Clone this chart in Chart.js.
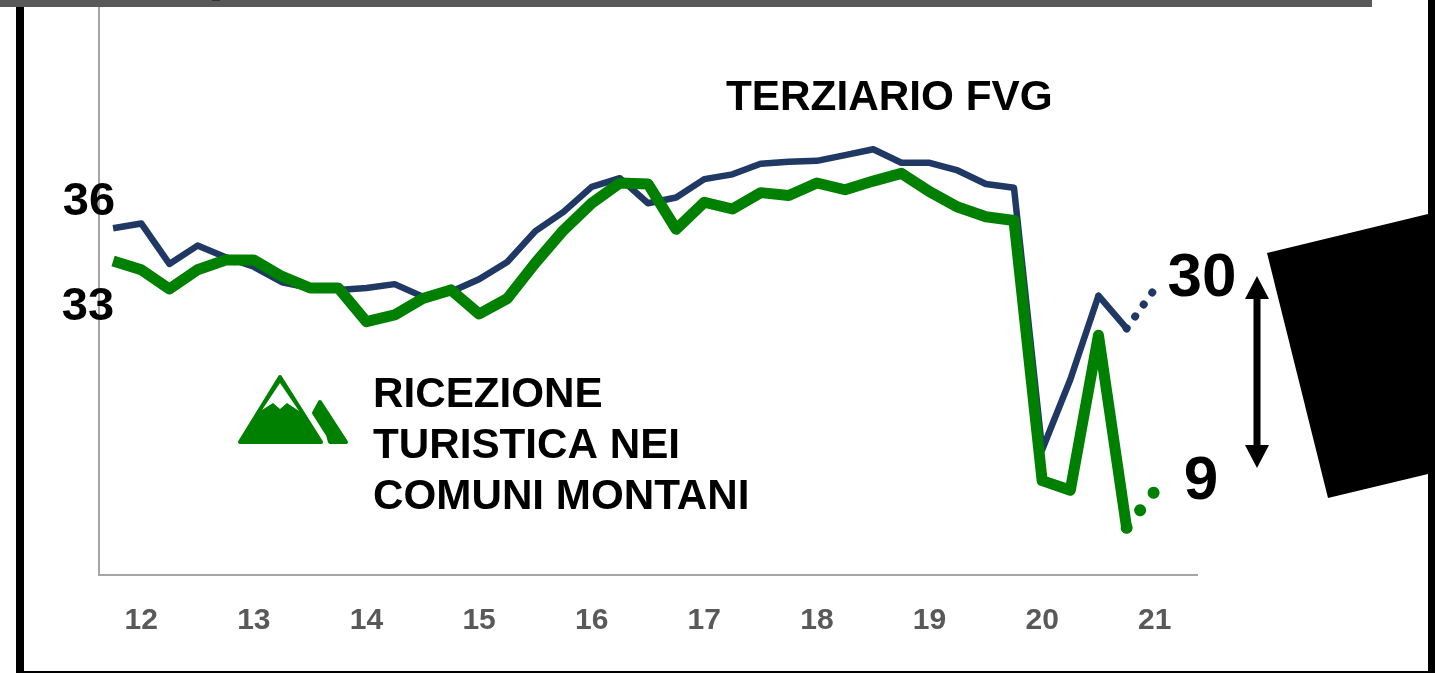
<!DOCTYPE html>
<html>
<head>
<meta charset="utf-8">
<title>Terziario FVG</title>
<script src="https://cdn.jsdelivr.net/npm/chart.js@4"></script>
<style>
html, body { margin: 0; padding: 0; background: #fff; overflow: hidden; }
canvas { display: block; }
</style>
</head>
<body>
<canvas id="graf" width="1435" height="673"></canvas>
<script>
const graf = document.getElementById("graf")

// trimestri: l'etichetta compare solo sul primo punto dell'anno, l'ultima categoria resta vuota
const categorie = ["", "12", "", "", "", "13", "", "", "", "14", "", "", "", "15", "", "", "", "16", "", "", "", "17", "", "", "", "18", "", "", "", "19", "", "", "", "20", "", "", "", "21", ""]

const terziario = [36.0, 36.5, 32.3, 34.2, 33.0, 32.0, 30.4, 29.8, 29.6, 29.8, 30.2, 28.9, 29.4, 30.7, 32.5, 35.7, 37.7, 40.3, 41.2, 38.6, 39.2, 41.1, 41.6, 42.7, 42.9, 43.0, 43.6, 44.2, 42.8, 42.8, 42.0, 40.6, 40.2, 13.0, 20.3, 29.0, 25.6, 29.7]
const ricezione = [32.6, 31.7, 29.7, 31.7, 32.7, 32.7, 31.0, 29.8, 29.8, 26.3, 27.0, 28.7, 29.6, 27.1, 28.7, 32.4, 35.8, 38.6, 40.7, 40.6, 35.9, 38.7, 38.0, 39.7, 39.4, 40.7, 40.0, 40.9, 41.7, 39.8, 38.2, 37.2, 36.8, 9.8, 8.8, 24.9, 4.9, 8.7]

const etichette = [
    { testo: "TERZIARIO FVG", x: 726, y: 98, size: 42.3, align: "left" },
    { testo: "36", x: 89, y: 202, size: 47, align: "center" },
    { testo: "33", x: 88, y: 307, size: 47, align: "center" },
    { testo: "30", x: 1202, y: 279, size: 62, align: "center" },
    { testo: "9", x: 1201, y: 482, size: 62, align: "center" },
    { testo: "RICEZIONE", x: 373, y: 395, size: 42.2, align: "left" },
    { testo: "TURISTICA NEI", x: 373, y: 446, size: 42.2, align: "left" },
    { testo: "COMUNI MONTANI", x: 373, y: 497, size: 42.2, align: "left" }
]

function poligono(ctx, punti, colore) {
    ctx.fillStyle = colore
    ctx.beginPath()
    punti.forEach((p, i) => i ? ctx.lineTo(p[0], p[1]) : ctx.moveTo(p[0], p[1]))
    ctx.closePath()
    ctx.fill()
}

const decorazioni = {
    id: "decorazioni",
    afterDraw(chart) {
        const ctx = chart.ctx
        ctx.save()
        // cornice e barra in alto
        ctx.fillStyle = "#000"
        ctx.fillRect(16, 0, 8, 673)
        ctx.fillRect(1428, 0, 7, 673)
        ctx.fillRect(16, 671, 1419, 2)
        ctx.fillStyle = "#595959"
        ctx.fillRect(0, 0, 1372, 7)
        ctx.fillStyle = "#333"
        ctx.fillRect(212, 0, 8, 1)

        // forma nera a destra
        poligono(ctx, [[1267, 253], [1428, 214], [1428, 474], [1328, 498]], "#000")

        // freccia doppia
        ctx.fillStyle = "#000"
        ctx.fillRect(1253.5, 295, 7, 154)
        poligono(ctx, [[1257, 276], [1269, 299], [1245, 299]], "#000")
        poligono(ctx, [[1257, 468], [1269, 445], [1245, 445]], "#000")

        // icona montagne
        ctx.lineJoin = "round"
        ctx.lineWidth = 4
        ctx.strokeStyle = "#008000"
        ctx.fillStyle = "#008000"
        ctx.beginPath()
        ctx.moveTo(280, 377)
        ctx.lineTo(321, 442)
        ctx.lineTo(240, 442)
        ctx.closePath()
        ctx.fill()
        ctx.stroke()
        poligono(ctx, [[280, 383], [299, 411], [287, 403], [280, 409], [273, 403], [262, 410]], "#fff")
        ctx.fillStyle = "#008000"
        ctx.beginPath()
        ctx.moveTo(314, 413)
        ctx.lineTo(320, 402)
        ctx.lineTo(346, 442)
        ctx.lineTo(330, 442)
        ctx.lineTo(328, 435)
        ctx.closePath()
        ctx.fill()
        ctx.stroke()

        // testi
        ctx.fillStyle = "#000"
        ctx.textBaseline = "middle"
        etichette.forEach(e => {
            ctx.font = "bold " + e.size + "px 'Liberation Sans'"
            ctx.textAlign = e.align
            ctx.fillText(e.testo, e.x, e.y)
        })
        ctx.restore()
    }
}

// ultimo tratto punteggiato, quello prima con la fine arrotondata
function trattoFinale(passo, spessore) {
    return {
        borderDash: c => c.p0DataIndex === 36 ? [0.1, passo] : undefined,
        borderCapStyle: c => c.p0DataIndex >= 35 ? "round" : "butt",
        borderWidth: c => c.p0DataIndex === 36 ? spessore : undefined
    }
}

const myChart = new Chart(graf, {
    type: "line",
    data: {
        labels: categorie,
        datasets: [
            {
                label: "Ricezione turistica nei comuni montani",
                data: ricezione,
                borderColor: "#008000",
                borderWidth: 11,
                borderJoinStyle: "round",
                pointRadius: 0,
                tension: 0,
                segment: trattoFinale(22, 12)
            },
            {
                label: "Terziario FVG",
                data: terziario,
                borderColor: "#1F3864",
                borderWidth: 6.5,
                borderJoinStyle: "round",
                pointRadius: 0,
                tension: 0,
                segment: trattoFinale(14.6, 8)
            }
        ]
    },
    plugins: [decorazioni],
    options: {
        responsive: false,
        animation: false,
        layout: { padding: { left: 99, right: 238, top: 0, bottom: 0 } },
        plugins: { legend: { display: false }, tooltip: { enabled: false } },
        scales: {
            x: {
                offset: true,
                grid: { display: false, drawTicks: false },
                border: { color: "#A6A6A6", width: 2 },
                afterFit: s => { s.height = 98 },
                ticks: {
                    autoSkip: false,
                    maxRotation: 0,
                    padding: 28,
                    color: "#595959",
                    font: { family: "'Liberation Sans'", size: 30, weight: "bold" }
                }
            },
            y: {
                min: 0,
                max: 59.7,
                grid: { display: false, drawTicks: false },
                border: { color: "#A6A6A6", width: 2 },
                afterFit: s => { s.width = 0 },
                ticks: { display: false }
            }
        }
    }
})
</script>
</body>
</html>
